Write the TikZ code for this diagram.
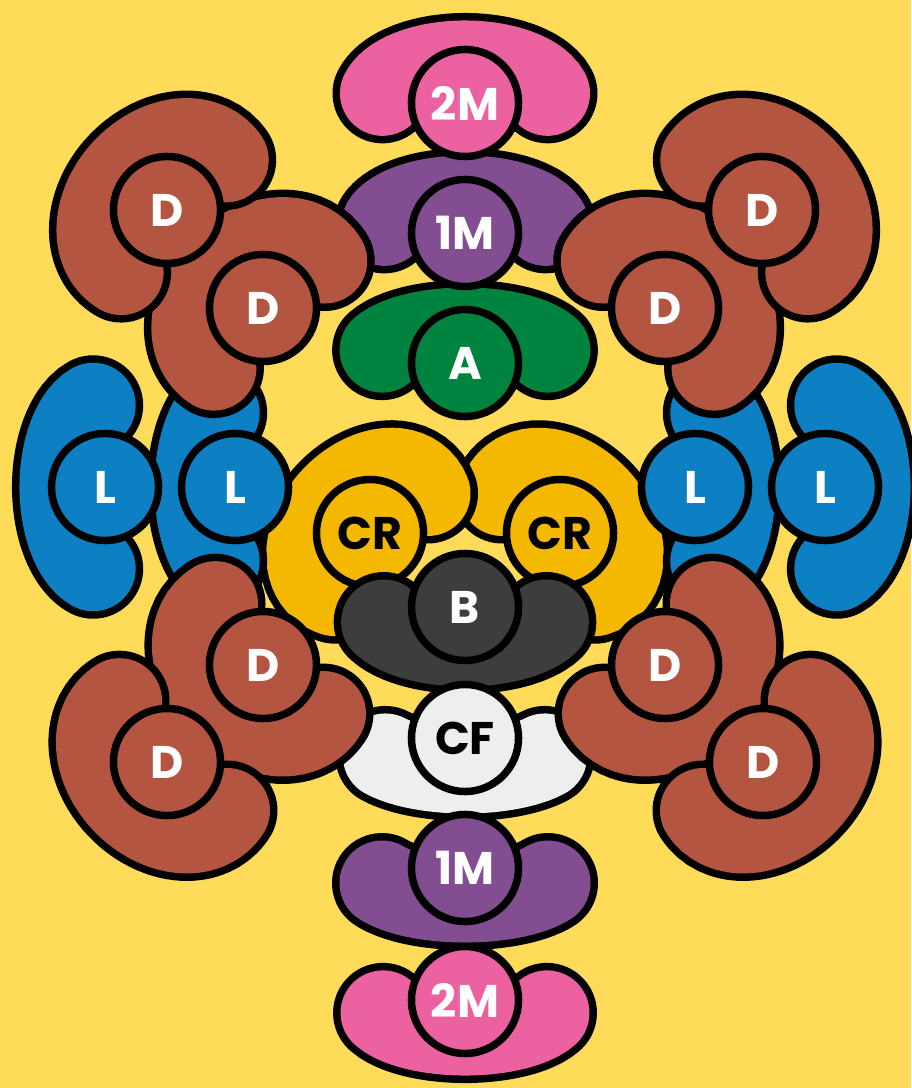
\documentclass[tikz,border=0pt]{standalone}
\usepackage{fontspec}
\newfontfamily\toothfont{Poppins}
\definecolor{bgyellow}{HTML}{FEDC5A}
\definecolor{pinkM}{HTML}{EC619F}
\definecolor{purpleM}{HTML}{834E91}
\definecolor{greenA}{HTML}{00833F}
\definecolor{brownD}{HTML}{B45541}
\definecolor{blueL}{HTML}{0C80C2}
\definecolor{yellowCR}{HTML}{F4B800}
\definecolor{darkB}{HTML}{3D3D3D}
\definecolor{greyCF}{HTML}{EEEEEE}
\tikzset{
  tooth/.style={circle, draw=black, line width=0.075cm, minimum size=1.07cm, inner sep=0pt,
    font=\toothfont\bfseries\fontsize{13}{13}\selectfont, text=white},
  beanedge/.style={draw=black, line width=1.00cm, line cap=round},
  beanfill/.style={line width=0.85cm, line cap=round},
}
% bean: x, y, rotation, colour, x radius, y radius, end angle
\newcommand{\bean}[7]{%
  \begin{scope}[shift={(#1,#2)}, x=0.01cm, y=0.01cm, rotate=#3]
    \draw[beanedge] (#7:#5 and #6) arc[start angle=#7, end angle={180-(#7)}, x radius=#5, y radius=#6];
    \draw[beanfill, draw=#4] (#7:#5 and #6) arc[start angle=#7, end angle={180-(#7)}, x radius=#5, y radius=#6];
  \end{scope}}
\begin{document}
\begin{tikzpicture}[x=0.01cm, y=-0.01cm]
  \fill[bgyellow] (0,0) rectangle (911,1088);
  \useasboundingbox (0,0) rectangle (911,1088);
  % Canines
  \bean{560}{533}{-47}{yellowCR}{72}{50}{-18}
  \bean{370}{533}{47}{yellowCR}{72}{50}{-18}
  \node[tooth, fill=yellowCR, text=black] (crl) at (370,533) {CR};
  \node[tooth, fill=yellowCR, text=black] (crr) at (560,533) {CR};
  % B and CF
  \bean{465}{607}{180}{darkB}{89}{37}{24}
  \node[tooth, fill=darkB] (b) at (465,607) {B};
  \bean{465}{738}{180}{greyCF}{95}{33}{33}
  \node[tooth, fill=greyCF, text=black] (cf) at (465,738) {CF};
  % Lateral teeth
  \bean{235}{487}{90}{blueL}{84}{38}{28}
  \bean{105}{487}{90}{blueL}{85}{43}{16}
  \bean{695}{487}{-90}{blueL}{84}{38}{28}
  \bean{825}{487}{-90}{blueL}{85}{43}{16}
  \node[tooth, fill=blueL] (llo) at (105,487) {L};
  \node[tooth, fill=blueL] (lli) at (235,487) {L};
  \node[tooth, fill=blueL] (lri) at (695,487) {L};
  \node[tooth, fill=blueL] (lro) at (825,487) {L};
  % Upper middle column
  \bean{465}{103}{0}{pinkM}{85}{40}{14}
  \bean{465}{233}{0}{purpleM}{84}{35}{16}
  \bean{465}{363}{0}{greenA}{90}{33}{23}
  \node[tooth, fill=pinkM] (m2up) at (465,103) {2M};
  \node[tooth, fill=purpleM] (m1up) at (465,233) {1M};
  \node[tooth, fill=greenA] (a) at (465,363) {A};
  % Lower middle column
  \bean{465}{868}{180}{purpleM}{94}{32}{28}
  \bean{465}{1000}{180}{pinkM}{89}{33}{23}
  \node[tooth, fill=purpleM] (m1lo) at (465,868) {1M};
  \node[tooth, fill=pinkM] (m2lo) at (465,1000) {2M};
  % D teeth, upper
  \bean{263}{308}{44}{brownD}{78}{58}{-9}
  \node[tooth, fill=brownD] (duli) at (263,308) {D};
  \bean{167}{210}{47}{brownD}{78}{58}{-9}
  \node[tooth, fill=brownD] (dulo) at (167,210) {D};
  \bean{665}{308}{-44}{brownD}{78}{58}{-9}
  \node[tooth, fill=brownD] (duri) at (665,308) {D};
  \bean{762}{210}{-47}{brownD}{78}{58}{-9}
  \node[tooth, fill=brownD] (duro) at (762,210) {D};
  % D teeth, lower
  \bean{263}{665}{134.5}{brownD}{78}{58}{-9}
  \node[tooth, fill=brownD] (dlli) at (263,665) {D};
  \bean{167}{762}{134.5}{brownD}{78}{58}{-9}
  \node[tooth, fill=brownD] (dllo) at (167,762) {D};
  \bean{665}{665}{-134.5}{brownD}{78}{58}{-9}
  \node[tooth, fill=brownD] (dlri) at (665,665) {D};
  \bean{763}{762}{-134.5}{brownD}{78}{58}{-9}
  \node[tooth, fill=brownD] (dlro) at (763,762) {D};
\end{tikzpicture}
\end{document}
